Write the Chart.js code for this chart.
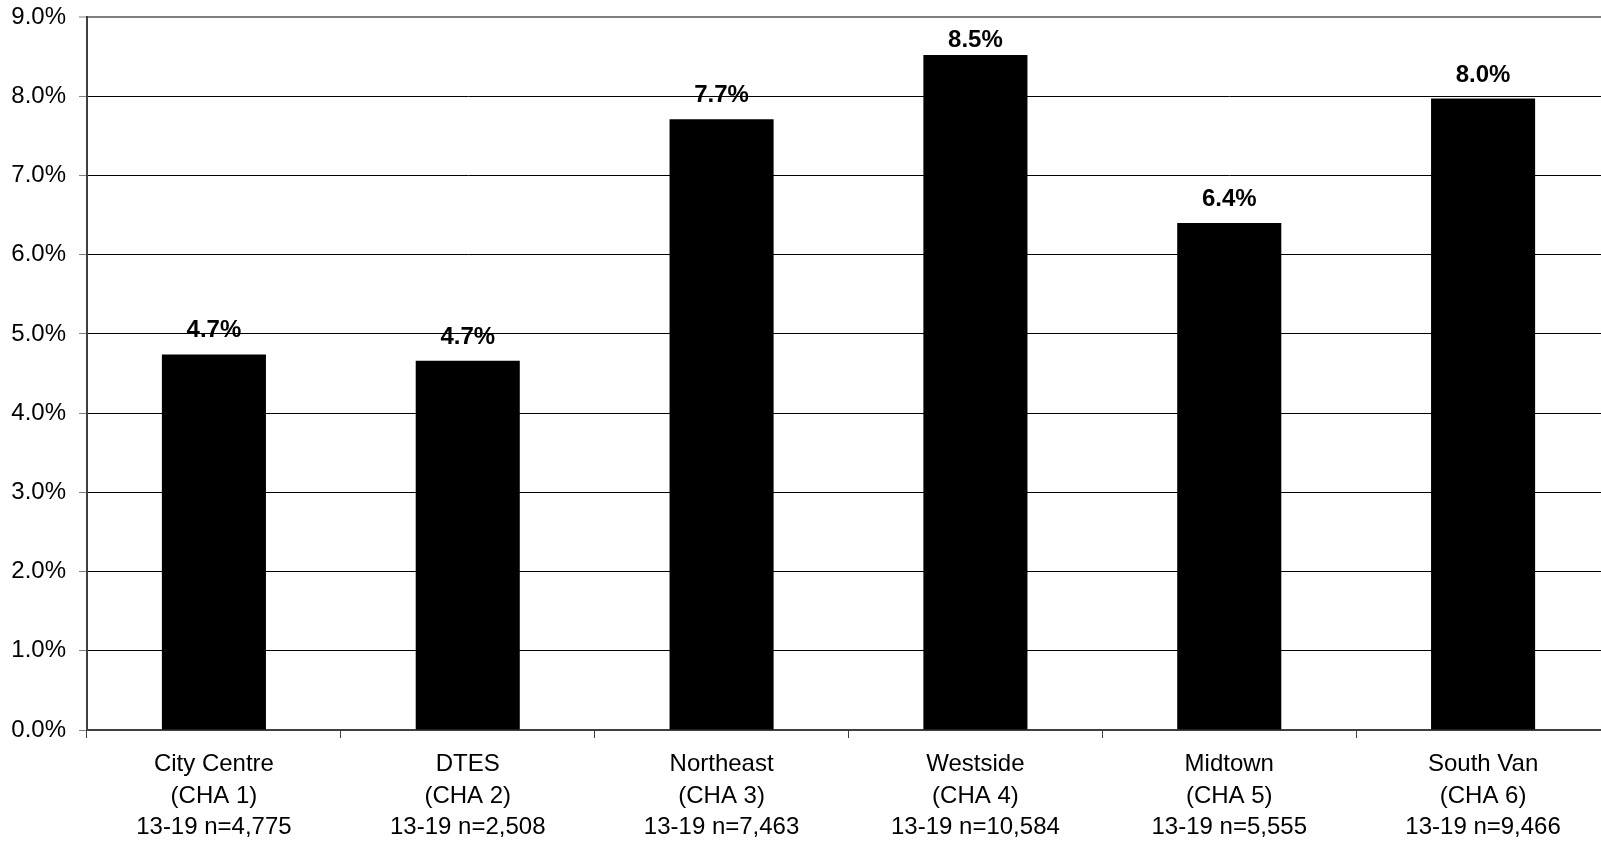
<!DOCTYPE html>
<html>
<head>
<meta charset="utf-8">
<script src="https://cdn.jsdelivr.net/npm/chart.js@4"></script>
<style>
  html, body { margin: 0; padding: 0; background: #fff; overflow: hidden; }
  #wrap { width: 1610px; height: 843px; }
</style>
</head>
<body>
<div id="wrap"><canvas id="c" width="1610" height="843"></canvas></div>
<script>
const categories = [
  ["City Centre", "(CHA 1)", "13-19 n=4,775"],
  ["DTES", "(CHA 2)", "13-19 n=2,508"],
  ["Northeast", "(CHA 3)", "13-19 n=7,463"],
  ["Westside", "(CHA 4)", "13-19 n=10,584"],
  ["Midtown", "(CHA 5)", "13-19 n=5,555"],
  ["South Van", "(CHA 6)", "13-19 n=9,466"]
];
const values = [4.74, 4.66, 7.71, 8.52, 6.40, 7.97];
const yMin = 0, yMax = 9, yStep = 1;

const FONT = "'Liberation Sans', Arial, sans-serif";

const labelPlugin = {
  id: 'valueLabels',
  beforeDraw(chart) {
    const ctx = chart.ctx;
    const meta = chart.getDatasetMeta(0);
    const area = chart.chartArea;
    ctx.save();
    ctx.font = "bold 24px " + FONT;
    ctx.fillStyle = "#000";
    ctx.textAlign = "center";
    ctx.textBaseline = "alphabetic";
    meta.data.forEach((bar, i) => {
      let y = bar.y - 17;
      if (y < area.top + 30) y = area.top + 30;
      ctx.fillText(values[i].toFixed(1) + "%", bar.x, y);
    });
    ctx.restore();
  }
};

new Chart(document.getElementById('c'), {
  type: 'bar',
  data: {
    labels: categories,
    datasets: [{
      data: values,
      backgroundColor: '#000',
      borderWidth: 0,
      categoryPercentage: 1.0,
      barPercentage: 0.41
    }]
  },
  options: {
    responsive: false,
    animation: false,
    devicePixelRatio: 1,
    layout: { padding: { top: 17, right: 0, left: 0, bottom: 0 } },
    plugins: { legend: { display: false }, tooltip: { enabled: false } },
    scales: {
      x: {
        grid: {
          offset: true,
          drawOnChartArea: false,
          tickLength: 8,
          tickColor: '#404040',
          tickWidth: 1
        },
        border: { color: '#404040', width: 2 },
        ticks: {
          font: { family: FONT, size: 24, lineHeight: 1.33 },
          color: '#000',
          padding: 10,
          maxRotation: 0,
          autoSkip: false
        },
        afterFit(s) { s.height = 113; }
      },
      y: {
        min: yMin, max: yMax,
        ticks: {
          stepSize: yStep,
          font: { family: FONT, size: 24 },
          color: '#000',
          padding: 13,
          callback: v => Number(v).toFixed(1) + '%'
        },
        grid: {
          color: c => (c.tick && c.tick.value === yMax) ? '#808080' : '#000',
          lineWidth: c => (c.tick && c.tick.value === yMax) ? 2 : 1,
          tickLength: 8,
          tickColor: '#808080',
          tickWidth: 1
        },
        border: { color: '#404040', width: 2 },
        afterFit(s) { s.width = 87; s.paddingTop = 0; s.paddingBottom = 0; }
      }
    }
  },
  plugins: [labelPlugin]
});
</script>
</body>
</html>
